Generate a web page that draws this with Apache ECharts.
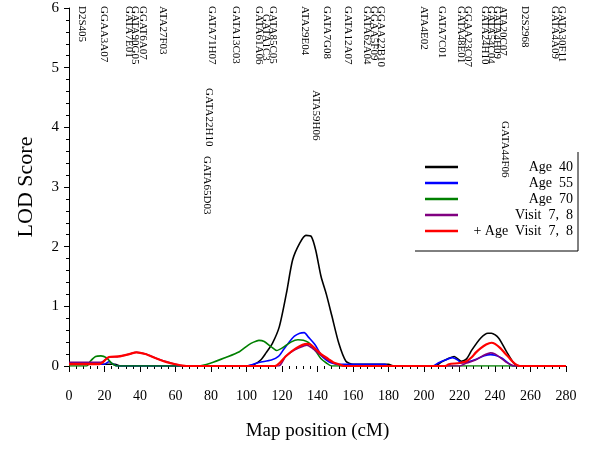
<!DOCTYPE html>
<html><head><meta charset="utf-8">
<script src="https://cdn.jsdelivr.net/npm/echarts@6/dist/echarts.min.js"></script>
<style>html,body{margin:0;padding:0;background:#fff}#c{width:600px;height:449px}</style>
</head><body><div id="c"></div>
<script>
// ---- data ----
const xTicks = [0,20,40,60,80,100,120,140,160,180,200,220,240,260,280];
const yTicks = [0,1,2,3,4,5,6];
const seriesNames = ['Age  40','Age  55','Age  70','Visit  7,  8','+ Age  Visit  7,  8'];
const age40 = [[0,0.03],[26,0.03],[29,0],[100,0],[104,0.02],[108,0.1],[111,0.22],[114.6,0.38],[118.5,0.66],[122.5,1.22],[126,1.78],[130,2.06],[133.5,2.19],[136.5,2.17],[139,1.94],[142,1.5],[145,1.2],[148,0.85],[152,0.38],[156,0.08],[160,0.03],[180,0.03],[183,0],[206,0],[210,0.07],[214,0.13],[217,0.16],[221,0.08],[224,0.12],[227,0.27],[232,0.47],[236,0.55],[238,0.55],[242,0.47],[246.5,0.24],[250.5,0.05],[253,0],[280,0]];
const age55 = [[0,0.03],[20,0.03],[22.5,0.07],[25,0.03],[27,0],[100,0],[107,0.06],[114,0.1],[118,0.16],[121,0.28],[124,0.4],[127,0.5],[130,0.55],[132.5,0.56],[135,0.48],[139,0.34],[142,0.18],[145,0.1],[148,0.05],[152,0.03],[178,0.03],[180,0],[205,0],[208,0.05],[212,0.1],[216,0.14],[219,0.1],[221,0.05],[225,0.07],[229,0.11],[234,0.17],[237.5,0.19],[240,0.18],[244,0.13],[247,0.06],[250,0],[280,0]];
const age70 = [[0,0],[10,0],[12,0.08],[15,0.16],[18,0.17],[21,0.14],[24,0.05],[27,0],[73,0],[80,0.05],[88,0.14],[96,0.24],[101,0.35],[104,0.4],[107,0.43],[110,0.41],[114,0.32],[117,0.26],[120,0.3],[125,0.4],[129,0.44],[132,0.43],[135,0.39],[139,0.25],[142,0.12],[145,0.05],[148,0],[280,0]];
const visit78 = [[0,0.06],[18,0.06],[22,0.14],[28,0.16],[34,0.2],[38,0.23],[43,0.2],[49,0.13],[55,0.07],[60,0.03],[66,0],[118,0],[122,0.16],[126,0.25],[130,0.31],[134,0.35],[137,0.3],[139,0.25],[142,0.18],[146,0.1],[149,0.05],[152,0.02],[155,0],[220,0],[224,0.05],[229,0.1],[233,0.17],[237.5,0.22],[240,0.2],[243,0.14],[246,0.07],[249,0.02],[251,0],[280,0]];
const ageVisit78 = [[0,0.03],[17,0.03],[19,0.06],[22.5,0.15],[28,0.16],[34,0.2],[38,0.23],[43,0.2],[49,0.13],[54.6,0.07],[60,0.03],[66,0],[116,0],[119,0.06],[122,0.16],[128,0.3],[134,0.37],[136,0.36],[139,0.28],[142,0.2],[146,0.12],[149,0.06],[152,0.03],[155,0],[212,0],[214,0.03],[220,0.05],[224,0.08],[227,0.15],[229,0.22],[232,0.3],[235,0.36],[238,0.39],[240,0.37],[243,0.3],[246,0.2],[248,0.14],[250,0.07],[252,0.02],[254,0],[280,0]];
const markerNames = ['D2S405','GGAA3A07','GATA7E01','GATA90G05','GGAT6A07','ATA27F03','GATA71H07','GATA22H10','GATA65D03','GATA13C03','GATA61A06','GATA1C3','GATA85C05','ATA29E04','ATA59H06','GATA7G08','GATA12A07','GATA62A04','GGAA5F09','GGAA22B10','ATA4E02','GATA7C01','GATA48E01','GGAA23C07','GATA24H10','GATA54C04','GATA4H09','ATA20C07','D2S2968','GATA44F06','GATA4A09','GATA30F11'];
const markerPos = [7.3,19.7,33.8,37.2,41.7,53.0,80.6,78.9,77.7,94.1,107.0,111.0,114.9,133.0,139.2,145.4,157.2,167.9,171.8,175.8,200.0,210.1,220.8,224.8,234.4,237.7,241.1,244.5,256.9,245.6,273.8,277.7];

// ---- layout (not data) ----
const labelDrop = {'GATA22H10':82,'GATA65D03':150,'ATA59H06':84,'GATA44F06':115,'GATA1C3':8};
const colors = ['#000000','#0000ff','#008000','#800080','#ff0000'];
const widths = [1.6,1.6,1.6,1.6,2.2];
const serif = '"Liberation Serif", "DejaVu Serif", serif';
const allData = [age40, age55, age70, visit78, ageVisit78];

const chart = echarts.init(document.getElementById('c'), null, {renderer:'canvas'});
const series = allData.map((d,i)=>({
  name: seriesNames[i], type:'line', data:d, showSymbol:false, symbol:'none',
  smooth:0.25, lineStyle:{color:colors[i], width:widths[i]}, itemStyle:{color:colors[i]},
  z: 2+i, silent:true, animation:false
}));
series.push({
  type:'custom', silent:true, clip:false, animation:false, z:10,
  data: markerPos.map(v=>[v,6]),
  renderItem:function(params, api){
    const p = api.coord([api.value(0), 6]);
    const name = markerNames[params.dataIndex];
    return {type:'text', x:p[0], y:p[1]-2+(labelDrop[name]||0), rotation:-Math.PI/2,
      style:{text:name, fontSize:11, fontFamily:serif, fill:'#000', align:'left', verticalAlign:'middle'}};
  }
});
chart.setOption({
  animation:false,
  backgroundColor:'#fff',
  grid:{left:69, right:34, top:8, bottom:83, containLabel:false},
  xAxis:{type:'value', min:xTicks[0], max:xTicks[xTicks.length-1], interval:20, offset:4,
    name:'Map position (cM)', nameLocation:'middle', nameGap:52,
    nameTextStyle:{fontFamily:serif, fontSize:19, color:'#000'},
    axisLine:{show:false}, axisTick:{show:true, length:6, lineStyle:{color:'#000'}},
    minorTick:{show:true, splitNumber:5, length:3, lineStyle:{color:'#000'}},
    splitLine:{show:false},
    axisLabel:{fontFamily:serif, fontSize:14, color:'#000', margin:19}},
  yAxis:{type:'value', min:yTicks[0], max:yTicks[yTicks.length-1], interval:1,
    name:'LOD Score', nameLocation:'middle', nameGap:32,
    nameTextStyle:{fontFamily:serif, fontSize:22, color:'#000'},
    axisLine:{show:true, lineStyle:{color:'#000', width:1}},
    axisTick:{show:true, length:5, lineStyle:{color:'#000'}},
    minorTick:{show:true, splitNumber:5, length:3, lineStyle:{color:'#000'}},
    splitLine:{show:false},
    axisLabel:{fontFamily:serif, fontSize:15, color:'#000', margin:10}},
  legend:{orient:'vertical', left:420, top:155, itemWidth:33, itemHeight:2.5, itemGap:2, icon:'rect',
    data:seriesNames,
    formatter:function(n){return '{a|'+n+'}';},
    textStyle:{rich:{a:{width:110, align:'right', fontFamily:serif, fontSize:14, lineHeight:16, color:'#000'}}}},
  graphic:[{type:'polyline', silent:true, shape:{points:[[578,152],[578,251],[415,251]]}, style:{stroke:'#000', lineWidth:1, fill:null}}],
  series:series
});
</script></body></html>
